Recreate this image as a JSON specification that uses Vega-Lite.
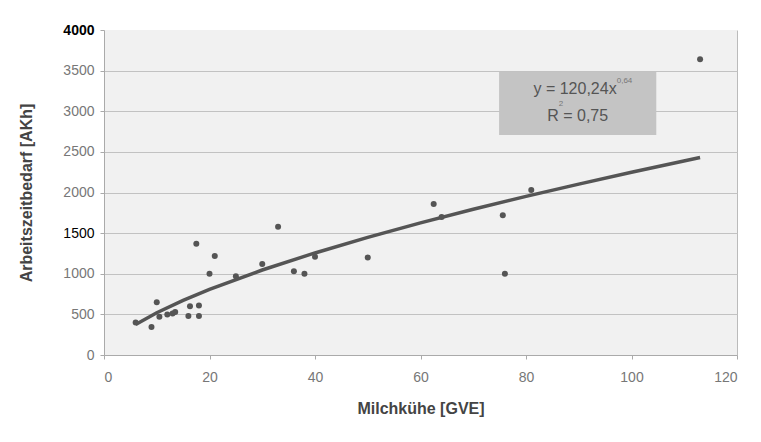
{
  "$schema": "https://vega.github.io/schema/vega-lite/v6.json",
  "width": 633,
  "height": 325,
  "autosize": {"type": "none"},
  "padding": {"left": 104, "top": 30, "right": 24, "bottom": 87},
  "background": "white",
  "config": {
    "font": "Liberation Sans",
    "view": {"fill": "#f1f1f1", "stroke": null}
  },
  "datasets": {
    "points": [
      {"gve": 6, "akh": 400}, {"gve": 9, "akh": 345}, {"gve": 10, "akh": 650},
      {"gve": 10.5, "akh": 470}, {"gve": 12, "akh": 500}, {"gve": 13, "akh": 510},
      {"gve": 13.5, "akh": 530}, {"gve": 16, "akh": 480}, {"gve": 16.3, "akh": 600},
      {"gve": 18, "akh": 610}, {"gve": 18, "akh": 480}, {"gve": 17.5, "akh": 1370},
      {"gve": 20, "akh": 1000}, {"gve": 21, "akh": 1220}, {"gve": 25, "akh": 970},
      {"gve": 30, "akh": 1120}, {"gve": 33, "akh": 1580}, {"gve": 36, "akh": 1030},
      {"gve": 38, "akh": 1000}, {"gve": 40, "akh": 1210}, {"gve": 50, "akh": 1200},
      {"gve": 62.5, "akh": 1860}, {"gve": 64, "akh": 1700}, {"gve": 75.6, "akh": 1720},
      {"gve": 76, "akh": 1000}, {"gve": 81, "akh": 2030}, {"gve": 113, "akh": 3640}
    ],
    "trend": [
      {"gve": 6, "akh": 376}, {"gve": 10, "akh": 520}, {"gve": 15, "akh": 673},
      {"gve": 20, "akh": 808}, {"gve": 30, "akh": 1046}, {"gve": 40, "akh": 1256},
      {"gve": 50, "akh": 1448}, {"gve": 60, "akh": 1626}, {"gve": 70, "akh": 1793},
      {"gve": 80, "akh": 1952}, {"gve": 90, "akh": 2103}, {"gve": 100, "akh": 2249},
      {"gve": 113, "akh": 2431}
    ],
    "box": [{"x1": 74.9, "x2": 104.7, "y1": 2709, "y2": 3485}],
    "label": [
      {"x": 89.3, "y": 3276, "text": "y = 120,24x"},
      {"x": 89.8, "y": 2943, "text": "R  = 0,75"}
    ],
    "sup": [
      {"x": 97.2, "y": 3375, "text": "0,64"},
      {"x": 86.2, "y": 3095, "text": "2"}
    ]
  },
  "layer": [
    {
      "data": {"name": "box"},
      "mark": {"type": "rect", "color": "#c4c4c4"},
      "encoding": {
        "x": {"field": "x1", "type": "quantitative", "scale": {"domain": [0, 120]}},
        "x2": {"field": "x2"},
        "y": {"field": "y1", "type": "quantitative", "scale": {"domain": [0, 4000]}},
        "y2": {"field": "y2"}
      }
    },
    {
      "data": {"name": "label"},
      "mark": {"type": "text", "fontSize": 16, "color": "#555555", "align": "center", "baseline": "middle"},
      "encoding": {
        "x": {"field": "x", "type": "quantitative"},
        "y": {"field": "y", "type": "quantitative"},
        "text": {"field": "text"}
      }
    },
    {
      "data": {"name": "sup"},
      "mark": {"type": "text", "fontSize": 8, "color": "#777777", "align": "left", "baseline": "middle"},
      "encoding": {
        "x": {"field": "x", "type": "quantitative"},
        "y": {"field": "y", "type": "quantitative"},
        "text": {"field": "text"}
      }
    },
    {
      "data": {"name": "trend"},
      "mark": {"type": "line", "color": "#555555", "strokeWidth": 3.5},
      "encoding": {
        "x": {"field": "gve", "type": "quantitative"},
        "y": {"field": "akh", "type": "quantitative"}
      }
    },
    {
      "data": {"name": "points"},
      "mark": {"type": "circle", "color": "#555555", "opacity": 1, "size": 36},
      "encoding": {
        "x": {
          "field": "gve", "type": "quantitative",
          "scale": {"domain": [0, 120], "nice": false},
          "axis": {
            "title": "Milchkühe [GVE]",
            "titleFontSize": 16, "titleFontWeight": "bold", "titleColor": "#444444", "titlePadding": 16,
            "values": [0, 20, 40, 60, 80, 100, 120], "format": "d",
            "labelFontSize": 14, "labelColor": "#777777", "labelPadding": 11,
            "domainColor": "#aaaaaa", "tickColor": "#aaaaaa", "tickSize": 4,
            "grid": true,
            "gridColor": {"condition": {"test": "datum.value == 120", "value": "#bbbbbb"}, "value": "transparent"}
          }
        },
        "y": {
          "field": "akh", "type": "quantitative",
          "scale": {"domain": [0, 4000], "nice": false},
          "axis": {
            "title": "Arbeitszeitbedarf [AKh]",
            "titleFontSize": 16, "titleFontWeight": "bold", "titleColor": "#444444", "titlePadding": 28,
            "values": [0, 500, 1000, 1500, 2000, 2500, 3000, 3500, 4000], "format": "d",
            "labelFontSize": 14, "labelPadding": 6,
            "labelColor": {"condition": {"test": "datum.value == 4000 || datum.value == 1500", "value": "black"}, "value": "#777777"},
            "labelFontWeight": {"condition": {"test": "datum.value == 4000", "value": "bold"}, "value": "normal"},
            "domainColor": "#aaaaaa", "tickColor": "#aaaaaa", "tickSize": 4,
            "grid": true,
            "gridColor": {"condition": {"test": "datum.value == 4000", "value": "transparent"}, "value": "#c2c2c2"}
          }
        }
      }
    }
  ]
}
